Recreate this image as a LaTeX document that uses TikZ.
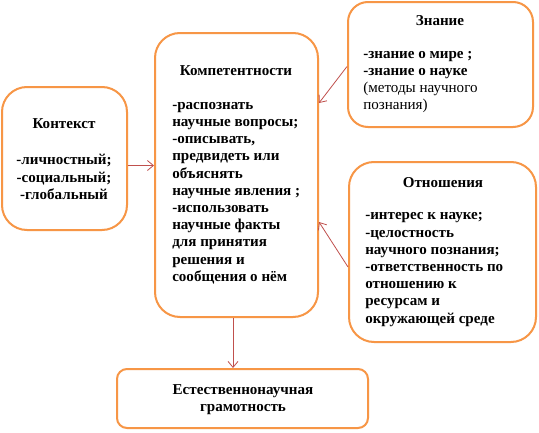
\documentclass[tikz,border=0pt]{standalone}
\usepackage{fontspec}
\setmainfont{Liberation Serif}
\usetikzlibrary{arrows.meta}
\definecolor{boxorange}{HTML}{F79646}
\definecolor{arrred}{HTML}{C0504D}
\begin{document}
\begin{tikzpicture}[x=0.75pt,y=-0.75pt,
  box/.style={draw=boxorange, line width=1.5pt, fill=white, rounded corners=#1, inner sep=0pt},
  box/.default=18pt,
  txt/.style={font=\fontsize{11.3}{12.9}\selectfont\bfseries, inner sep=0pt},
  lst/.style={txt, align=left, anchor=west},
  arr/.style={draw=arrred, line width=0.6pt, -{Straight Barb[length=4.5pt,width=7.5pt]}}]
\useasboundingbox[fill=white] (0,0) rectangle (539,432);
% boxes
\node[box=18.75pt, minimum width=93.75pt, minimum height=107.25pt] (ctx) at (64.5,158.5) {};
\node[box=18.75pt, minimum width=122.25pt, minimum height=213pt] (comp) at (236.5,175) {};
\node[box=15pt, minimum width=138.75pt, minimum height=93.75pt] (zn) at (440.5,64.5) {};
\node[box=18.75pt, minimum width=140.25pt, minimum height=135pt] (otn) at (442.5,252) {};
\node[box=7.5pt, minimum width=188.25pt, minimum height=44.25pt] (est) at (242.5,398.5) {};
% texts
\node[txt] (ctxt) at (64,124) {Контекст};
\node[txt, align=center] (ctxl) at (64,177) {-личностный;\\-социальный;\\-глобальный};
\node[txt] (compt) at (236,71) {Компетентности};
\node[lst] (compl) at (172,193) {-распознать\\научные вопросы;\\-описывать,\\предвидеть или\\объяснять\\научные явления ;\\-использовать\\научные факты\\для принятия\\решения и\\сообщения о нём};
\node[txt] (znt) at (440,21) {Знание};
\node[lst] (znl) at (363,82) {-знание о мире ;\\-знание о науке\\\mdseries(методы научного\\\mdseries познания)};
\node[txt] (otnt) at (443,183) {Отношения};
\node[lst] (otnl) at (365,269.5) {-интерес к науке;\\-целостность\\научного познания;\\-ответственность по\\отношению к\\ресурсам и\\окружающей среде};
\node[txt, align=center] (estt) at (243,399.5) {Естественнонаучная\\грамотность};
% connectors
\draw[arr] ([yshift=-5.25pt]ctx.east) -- ([yshift=-5.25pt]ctx.east -| comp.west);
\draw[arr] ([yshift=-1.5pt]zn.west) -- ([yshift=54pt]comp.east);
\draw[arr] ([yshift=-11.25pt]otn.west) -- ([yshift=-35.25pt]comp.east);
\draw[arr] ([xshift=-2.6pt]comp.south) -- ([xshift=-2.6pt]comp.south |- est.north);
\end{tikzpicture}
\end{document}
